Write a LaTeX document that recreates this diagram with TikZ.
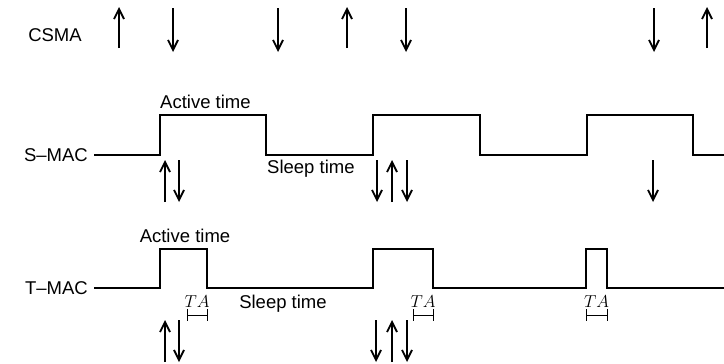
\documentclass[tikz,border=0pt]{standalone}
\usepackage{fontspec}
\setmainfont{Liberation Sans}
\usepackage{tikz}
\usetikzlibrary{arrows.meta}

\tikzset{
  wave/.style={line width=2.9pt, line join=miter},
  sig/.style={line width=2.3pt, -{Straight Barb[length=10pt,width=10pt,line width=1.8pt]}},
  lbl/.style={inner sep=0pt, font=\fontsize{18.5}{20}\selectfont},
  tabar/.style={line width=1pt}
}

\begin{document}
\begin{tikzpicture}[x=1pt,y=-1pt]
        \useasboundingbox (0,0) rectangle (724,364);

        % row labels
        \node[lbl] (csma) at (55,35) {CSMA};
        \node[lbl, anchor=east] (smac) at (88,155) {S–MAC};
        \node[lbl, anchor=east] (tmac) at (88,288) {T–MAC};

        % CSMA: arrivals (up) and departures (down)
        \foreach \x in {119,347,707} {
            \draw[sig] (\x,48) -- (\x,7);
        }
        \foreach \x in {173,278,406,654} {
            \draw[sig] (\x,8) -- (\x,52);
        }

        % S-MAC schedule: fixed duty cycle
        \draw[wave] (94,155) -- (160,155) -- (160,115) -- (266,115) -- (266,155)
            -- (373,155) -- (373,115) -- (480,115) -- (480,155)
            -- (587,155) -- (587,115) -- (693,115) -- (693,155) -- (724,155);
        \node[lbl, anchor=west] (sact) at (160,102) {Active time};
        \node[lbl, anchor=west] (sslp) at (267,169) {Sleep time};

        \foreach \x in {165,392} {
            \draw[sig] (\x,202) -- (\x,160);
        }
        \foreach \x in {179,377,407,653} {
            \draw[sig] (\x,160) -- (\x,202);
        }

        % T-MAC schedule: active period ends after TA of silence
        \draw[wave] (94,288) -- (160,288) -- (160,249) -- (207,249) -- (207,288)
            -- (373,288) -- (373,249) -- (433,249) -- (433,288)
            -- (586,288) -- (586,249) -- (607,249) -- (607,288) -- (724,288);
        \node[lbl] (tact) at (185,236) {Active time};
        \node[lbl] (tslp) at (283,304) {Sleep time};

        % TA intervals
        \foreach \a/\b in {187/207,413/433,586/607} {
            \draw[tabar] (\a,309) -- (\a,321);
            \draw[tabar] (\b,309) -- (\b,321);
            \draw[tabar] (\a,315) -- (\b,315);
            \node[inner sep=0pt, anchor=base, font=\fontsize{16}{18}\selectfont] at ({(\a+\b)/2},307) {$TA$};
        }

        \foreach \x in {165,392} {
            \draw[sig] (\x,362) -- (\x,320);
        }
        \foreach \x in {179,376,407} {
            \draw[sig] (\x,320) -- (\x,362);
        }
    \end{tikzpicture}
\end{document}
